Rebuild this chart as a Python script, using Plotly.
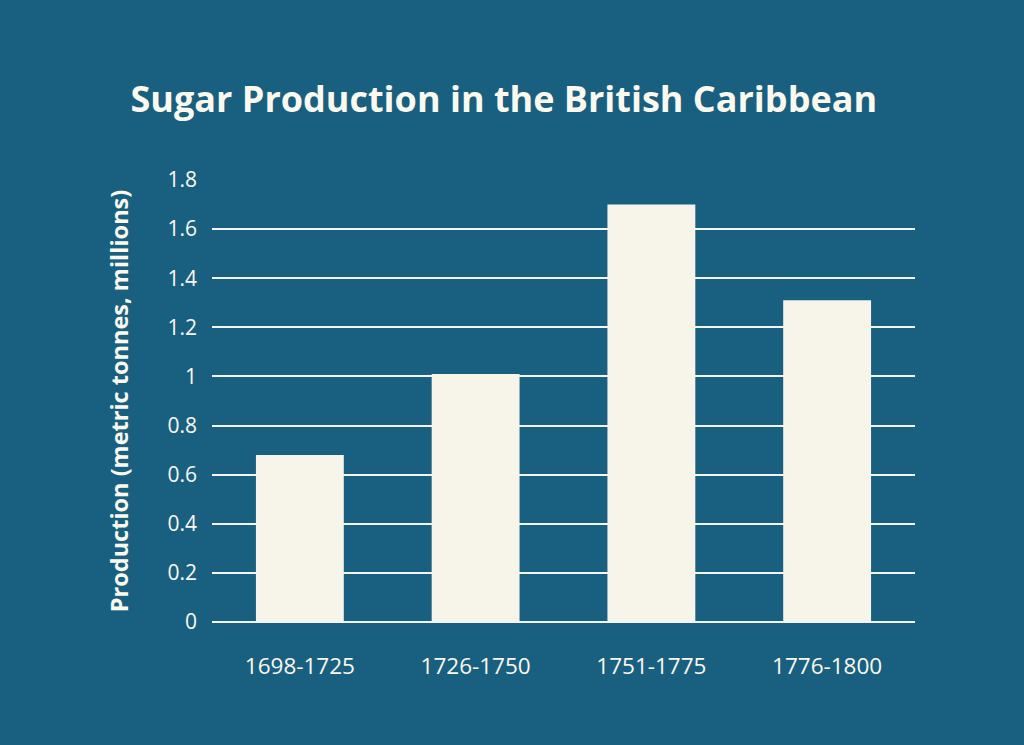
import plotly.graph_objects as go

# data
periods = ["1698-1725", "1726-1750", "1751-1775", "1776-1800"]
production = [0.68, 1.01, 1.70, 1.31]
y_ticks = [0, 0.2, 0.4, 0.6, 0.8, 1, 1.2, 1.4, 1.6, 1.8]
y_tick_labels = ["0", "0.2", "0.4", "0.6", "0.8", "1", "1.2", "1.4", "1.6", "1.8"]

BG = "#196080"
BAR = "#f7f4e9"
TXT = "#fbf8ee"
FONT = "Open Sans"

fig = go.Figure(
    go.Bar(
        x=periods,
        y=production,
        marker=dict(color=BAR, line=dict(width=0)),
        width=0.5,
    )
)

fig.update_layout(
    width=1024,
    height=745,
    paper_bgcolor=BG,
    plot_bgcolor=BG,
    margin=dict(l=212, r=109, t=180, b=123),
    showlegend=False,
    title=dict(
        text="<b>Sugar Production in the British Caribbean</b>",
        x=0.492,
        xanchor="center",
        y=0.866,
        yanchor="middle",
        font=dict(family=FONT, size=36, color=TXT),
    ),
    font=dict(family=FONT, color=TXT),
    xaxis=dict(
        showgrid=False,
        showline=False,
        zeroline=False,
        ticks="",
        tickfont=dict(size=22.5, color=TXT),
        ticklabelstandoff=28,
    ),
    yaxis=dict(
        range=[0, 1.8],
        tickvals=y_ticks,
        ticktext=y_tick_labels,
        showgrid=True,
        gridcolor="#f4f4f0",
        gridwidth=2,
        zeroline=True,
        zerolinecolor="#f4f4f0",
        zerolinewidth=2,
        showline=False,
        ticks="",
        tickfont=dict(size=21, color=TXT),
        ticklabelstandoff=14,
        title=dict(
            text="<b>Production (metric tonnes, millions)</b>",
            font=dict(family=FONT, size=23.5, color=TXT),
            standoff=32,
        ),
    ),
)

# drop the page's default body margin so the teal fills the window
fig.write_html(
    "out.html",
    config={"displayModeBar": False},
    post_script="document.body.style.margin='0';document.body.style.background='%s';" % BG,
)
